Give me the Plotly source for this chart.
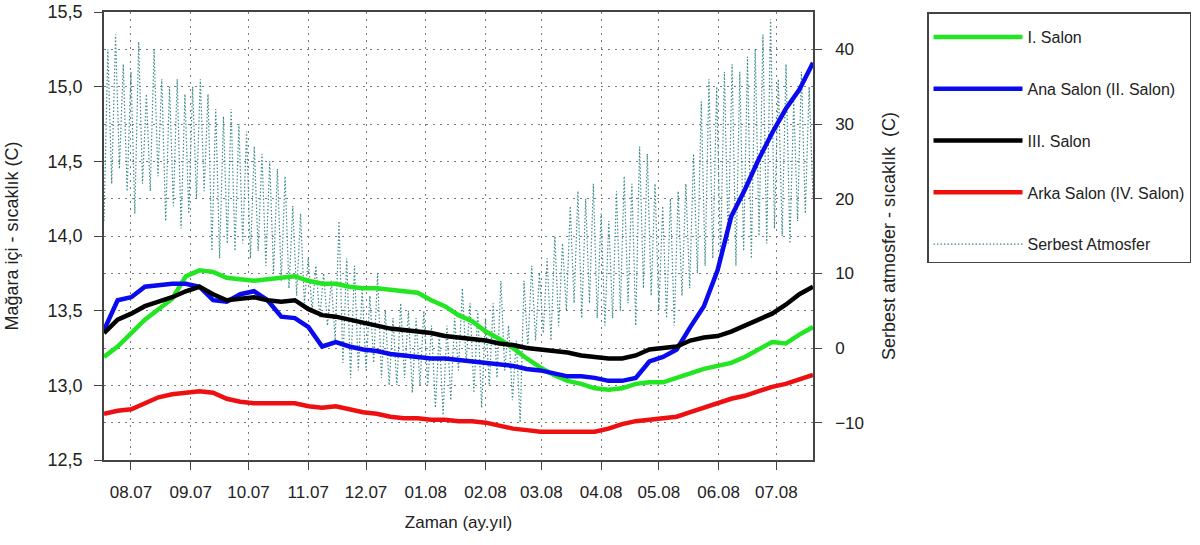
import pandas as pd
import plotly.graph_objects as go

# ---------------- data ----------------
cave_start, cave_end, cave_n = "2007-07-18", "2008-07-20", 53

salon1 = [13.19, 13.26, 13.35, 13.44, 13.51, 13.58, 13.73, 13.77, 13.76, 13.72,
          13.71, 13.70, 13.71, 13.72, 13.73, 13.70, 13.68, 13.68, 13.66, 13.65,
          13.65, 13.64, 13.63, 13.62, 13.57, 13.53, 13.47, 13.43, 13.36, 13.31,
          13.25, 13.18, 13.12, 13.07, 13.03, 13.01, 12.98, 12.97, 12.98, 13.01,
          13.02, 13.02, 13.05, 13.08, 13.11, 13.13, 13.15, 13.19, 13.24, 13.29,
          13.28, 13.34, 13.39]

ana_salon = [13.37, 13.57, 13.59, 13.66, 13.67, 13.68, 13.68, 13.66, 13.57, 13.56,
             13.61, 13.63, 13.57, 13.46, 13.45, 13.39, 13.26, 13.29, 13.26, 13.24,
             13.23, 13.21, 13.20, 13.19, 13.18, 13.18, 13.17, 13.16, 13.15, 13.14,
             13.13, 13.11, 13.10, 13.08, 13.06, 13.06, 13.05, 13.03, 13.03, 13.05,
             13.16, 13.19, 13.24, 13.39, 13.53, 13.77, 14.13, 14.31, 14.51, 14.69,
             14.85, 14.98, 15.16]

salon3 = [13.35, 13.44, 13.48, 13.53, 13.56, 13.59, 13.63, 13.66, 13.61, 13.57,
          13.58, 13.59, 13.57, 13.56, 13.57, 13.51, 13.47, 13.46, 13.44, 13.42,
          13.40, 13.38, 13.37, 13.36, 13.35, 13.33, 13.32, 13.31, 13.30, 13.28,
          13.27, 13.25, 13.24, 13.23, 13.22, 13.20, 13.19, 13.18, 13.18, 13.20,
          13.24, 13.25, 13.26, 13.30, 13.32, 13.33, 13.36, 13.40, 13.44, 13.48,
          13.54, 13.61, 13.66]

arka_salon = [12.81, 12.83, 12.84, 12.88, 12.92, 12.94, 12.95, 12.96, 12.95, 12.91,
              12.89, 12.88, 12.88, 12.88, 12.88, 12.86, 12.85, 12.86, 12.84, 12.82,
              12.81, 12.79, 12.78, 12.78, 12.77, 12.77, 12.76, 12.76, 12.75, 12.73,
              12.71, 12.70, 12.69, 12.69, 12.69, 12.69, 12.69, 12.71, 12.74, 12.76,
              12.77, 12.78, 12.79, 12.82, 12.85, 12.88, 12.91, 12.93, 12.96, 12.99,
              13.01, 13.04, 13.07]

atm_start, atm_step = "2007-07-18", "2D"
atmosfer = [
    17, 40, 22, 42, 24, 38, 21,
    37, 18, 41, 22, 34, 21, 40, 23, 36, 17, 35, 19, 36, 16, 34, 18,
    35, 20, 36, 21, 34, 13, 32, 12, 31, 14, 32, 13, 30, 14, 29,
    12, 27, 13, 26, 11, 25, 10, 24, 9, 23, 8, 19, 7, 18, 6,
    12, 5, 11, 4, 10, 3, 9, 1, 17, -2, 12, -4, 11, -3, 8,
    -3, 7, -2, 10, -4, 5, -5, 4, -5, 6, -4, 5, -6, 4, -5, 5,
    -5, 3, -8, 2, -9, 3, -7, 4, -3, 8, -2, 6, -6, 5, -8,
    4, -5, 6, -4, 9, -3, 3, -7, 1, -10, 9, 0, 11, 1, 10,
    2, 12, 1, 15, 3, 14, 5, 19, 6, 21, 4, 20, 6, 22, 4,
    18, 3, 17, 4, 21, 5, 23, 6, 22, 3, 27, 8, 26, 7, 22,
    5, 19, 4, 20, 3, 21, 7, 22, 8, 26, 10, 33, 11, 36, 12, 35,
    12, 37, 14, 38, 11, 37, 13, 39, 12, 40, 15, 42, 14, 44, 16,
    36, 15, 38, 14, 33, 17, 37, 18, 35, 20,
]

month_ticks = pd.date_range("2007-08-01", "2008-07-01", freq="MS")
left_ticks = [12.5, 13.0, 13.5, 14.0, 14.5, 15.0, 15.5]
right_ticks = [-10, 0, 10, 20, 30, 40]

cave_dates = pd.date_range(cave_start, cave_end, periods=cave_n)
atm_dates = pd.date_range(atm_start, periods=len(atmosfer), freq=atm_step)

# ---------------- figure ----------------
FONT = "Liberation Sans, Arial, sans-serif"
TXT = "#222222"
FRAME = "#444444"
fig = go.Figure()

fig.add_trace(go.Scatter(
    x=atm_dates, y=atmosfer, name="Serbest Atmosfer", mode="lines",
    line=dict(color="#3d8b8b", width=1.2, dash="1.5px,2px"),
    yaxis="y", legendrank=5, legendgroup="e"))

series = [
    ("I. Salon", salon1, "#22e622", 1, "a"),
    ("Ana Salon (II. Salon)", ana_salon, "#0a0aee", 2, "b"),
    ("III. Salon", salon3, "#000000", 3, "c"),
    ("Arka Salon (IV. Salon)", arka_salon, "#ee1010", 4, "d"),
]
for name, vals, col, rank, grp in series:
    fig.add_trace(go.Scatter(
        x=cave_dates, y=vals, name=name, mode="lines",
        line=dict(color=col, width=4.5), yaxis="y2",
        legendrank=rank, legendgroup=grp))

axis_line = dict(showline=True, linecolor=FRAME, linewidth=1.5, automargin=False,
                 ticklabeloverflow="allow")
grid = dict(showgrid=True, gridcolor="#7a7a7a", gridwidth=1, griddash="2px,5px")

fig.update_layout(
    width=1200, height=545,
    margin=dict(l=104, r=387, t=12, b=85, autoexpand=False),
    paper_bgcolor="white", plot_bgcolor="white",
    separators=", ",
    font=dict(family=FONT, color=TXT, size=16),
    xaxis=dict(
        type="date", range=[cave_start, cave_end],
        tickvals=month_ticks, tickformat="%m.%y",
        ticks="outside", ticklen=8, tickcolor=FRAME, tickwidth=1.2,
        tickfont=dict(size=17), ticklabelstandoff=8,
        mirror=True, zeroline=False,
        title=dict(text="Zaman (ay.yıl)", font=dict(size=17), standoff=15),
        **axis_line, **grid),
    yaxis=dict(
        range=[-15, 45], tickvals=right_ticks, side="right",
        ticks="outside", ticklen=7, tickcolor=FRAME, tickwidth=1.2,
        tickfont=dict(size=17), ticklabelstandoff=10,
        zeroline=False,
        title=dict(text="Serbest atmosfer - sıcaklık\u00a0\u00a0(C)",
                   font=dict(size=18), standoff=19),
        **axis_line, **grid),
    yaxis2=dict(
        range=[12.5, 15.5], tickvals=left_ticks, tickformat=".1f",
        side="left", overlaying="y", anchor="x",
        ticks="outside", ticklen=8, tickcolor=FRAME, tickwidth=1.2,
        tickfont=dict(size=18), ticklabelstandoff=8,
        zeroline=False,
        title=dict(text="Mağara içi - sıcaklık (C)", font=dict(size=18), standoff=24),
        **axis_line, **grid),
    legend=dict(
        x=1.1608, y=1.0, xanchor="left", yanchor="top",
        bordercolor=FRAME, borderwidth=1.5, bgcolor="white",
        font=dict(size=16, color=TXT), tracegroupgap=28, itemwidth=89,
        traceorder="grouped", entrywidth=190,
        title=dict(text="\u00a0", font=dict(size=5))),
    showlegend=True,
)

# remove the default page margin so the figure sits at the window origin
fig.write_html("out.html", config={"displayModeBar": False},
               post_script="document.body.style.margin='0';")
